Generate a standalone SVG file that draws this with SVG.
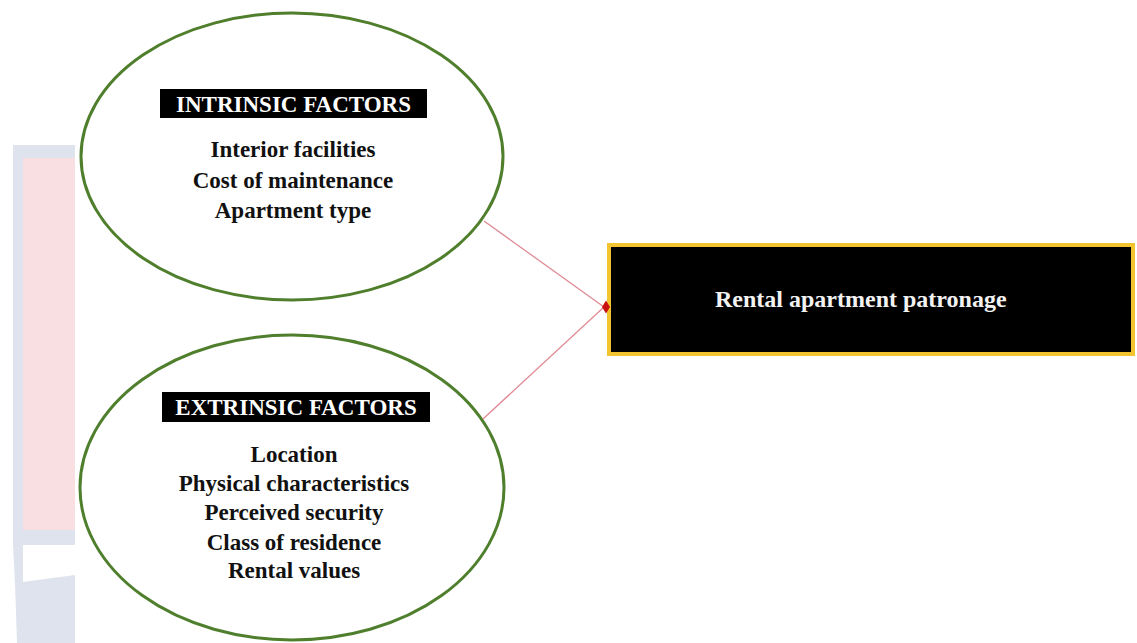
<svg xmlns="http://www.w3.org/2000/svg" width="1137" height="643" viewBox="0 0 1137 643">
<style>
.ell{fill:#ffffff;stroke:#4f7f2c;stroke-width:3}
.hdrbox{fill:#000000}
.hdr{font-family:"Liberation Serif","Times New Roman",serif;font-weight:bold;font-size:23px;fill:#ffffff;text-anchor:middle}
.item{font-family:"Liberation Serif","Times New Roman",serif;font-weight:bold;font-size:23px;fill:#111111;text-anchor:middle}
.conn{stroke:#e08a95;stroke-width:1.3;fill:none}
.main{font-family:"Liberation Serif","Times New Roman",serif;font-weight:bold;font-size:24px;fill:#f2f2f2}
</style>
<rect width="1137" height="643" fill="#ffffff"/>
<g id="watermark">
<rect x="13" y="145" width="62" height="400" fill="#dfe3ee"/>
<rect x="23" y="158" width="52" height="372" fill="#f9dfe2"/>
<polygon points="15,583 75,575 75,643 17,643" fill="#dfe3ee"/>
<polygon points="13,545 23,545 23,583 15,583" fill="#dfe3ee"/>
</g>
<g id="intrinsic">
<ellipse class="ell" cx="292" cy="156.5" rx="211" ry="143.5"/>
<rect class="hdrbox" x="160" y="89" width="267" height="29"/>
<text class="hdr" x="293.5" y="112">INTRINSIC FACTORS</text>
<text class="item" x="293" y="157">Interior facilities</text>
<text class="item" x="293" y="188">Cost of maintenance</text>
<text class="item" x="293" y="218">Apartment type</text>
</g>
<g id="extrinsic">
<ellipse class="ell" cx="292" cy="487.5" rx="212" ry="152.5"/>
<rect class="hdrbox" x="162" y="392" width="268" height="30"/>
<text class="hdr" x="296" y="415">EXTRINSIC FACTORS</text>
<text class="item" x="294" y="462">Location</text>
<text class="item" x="294" y="491">Physical characteristics</text>
<text class="item" x="294" y="520">Perceived security</text>
<text class="item" x="294" y="550">Class of residence</text>
<text class="item" x="294" y="578">Rental values</text>
</g>
<g id="patronage">
<rect x="609" y="245" width="524" height="109" fill="#000000" stroke="#f2c530" stroke-width="4"/>
<text class="main" x="715" y="307">Rental apartment patronage</text>
</g>
<g id="connectors">
<line class="conn" x1="484" y1="221" x2="604" y2="307"/>
<line class="conn" x1="483" y1="419" x2="604" y2="307"/>
<path d="M606,300.5 L610,307 L606,313.5 L602,307 Z" fill="#c81010"/>
</g>
</svg>
